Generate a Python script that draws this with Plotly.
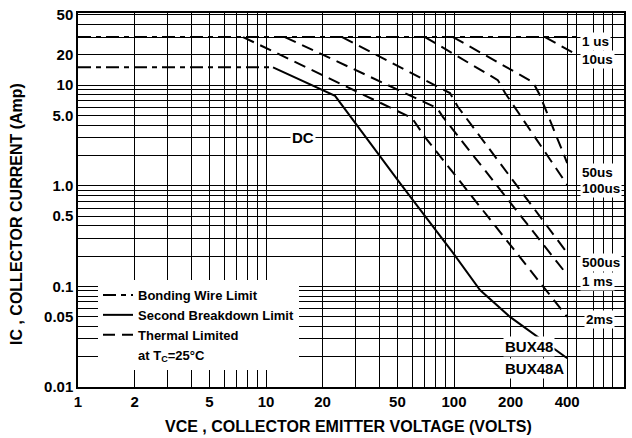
import plotly.graph_objects as go
import math

# ---------------- data ----------------
x_ticks = [1, 2, 5, 10, 20, 50, 100, 200, 400]
x_ticktext = ["1", "2", "5", "10", "20", "50", "100", "200", "400"]
x_minor = [3, 4, 6, 7, 8, 9, 30, 40, 60, 70, 80, 90, 300, 450, 550, 625, 700]

y_ticks = [0.01, 0.05, 0.1, 0.5, 1, 5, 10, 20, 50]
y_ticktext = ["0.01", "0.05", "0.1", "0.5", "1.0", "5.0", "10", "20", "50"]
y_minor = [0.02, 0.03, 0.04, 0.06, 0.07, 0.08, 0.09,
           0.2, 0.3, 0.4, 0.6, 0.7, 0.8, 0.9,
           2, 3, 4, 6, 7, 8, 9, 30, 40]

# Bonding wire limits (dash-dot)
bond30_v = [1, 450]
bond30_i = [30, 30]
bond15_v = [1, 10.9]
bond15_i = [15, 15]

# DC curve (solid)
dc_v = [10.9, 23.3, 51.6, 98.8, 137.5, 198.6, 400]
dc_i = [15, 7.8, 1.06, 0.215, 0.092, 0.0497, 0.0193]

# pulse curves (dashed)
t10us_v = [305, 450]
t10us_i = [30, 20]
t50us_v = [98.8, 263, 286, 400]
t50us_i = [30, 10.7, 7.96, 1.68]
t100us_v = [70.1, 171, 187, 400]
t100us_i = [30, 11.2, 8.33, 1.02]
t500us_v = [25.4, 95.2, 105, 400]
t500us_i = [30, 8.33, 6.05, 0.215]
t1ms_v = [12.6, 81.2, 87.4, 400]
t1ms_i = [30, 5.91, 4.81, 0.13]
t2ms_v = [7.55, 59.8, 70.1, 400]
t2ms_i = [30, 4.70, 3.04, 0.0497]

legend_names = ["Bonding Wire Limit", "Second Breakdown Limit", "Thermal Limited",
                "at T<sub>C</sub>=25°C"]

# ---------------- styles ----------------
FONT = "Liberation Sans, Arial, Helvetica, sans-serif"
DASH = "12px,7px"
DASHDOT = "13px,5px,5px,5px"
W = 632
H = 438
L, R, T, B = 78, 8, 13, 51
PW = W - L - R
PH = H - T - B


def px(xp):
    return (xp - L) / PW


def py(yp):
    return (H - B - yp) / PH


fig = go.Figure()

line_bw = dict(color="black", width=2, dash=DASHDOT)
line_sb = dict(color="black", width=2)
line_th = dict(color="black", width=2, dash=DASH)

fig.add_trace(go.Scatter(x=bond30_v, y=bond30_i, mode="lines", line=line_bw,
                         showlegend=False, hoverinfo="skip"))
fig.add_trace(go.Scatter(x=bond15_v, y=bond15_i, mode="lines", line=line_bw,
                         showlegend=False, hoverinfo="skip"))
fig.add_trace(go.Scatter(x=dc_v, y=dc_i, mode="lines", line=line_sb,
                         showlegend=False, hoverinfo="skip"))
for vv, ii in [(t10us_v, t10us_i), (t50us_v, t50us_i), (t100us_v, t100us_i),
               (t500us_v, t500us_i), (t1ms_v, t1ms_i), (t2ms_v, t2ms_i)]:
    fig.add_trace(go.Scatter(x=vv, y=ii, mode="lines", line=line_th,
                             showlegend=False, hoverinfo="skip"))

# legend entries
for name, ln in zip(legend_names,
                    [line_bw, line_sb, line_th,
                     dict(color="rgba(0,0,0,0)", width=2)]):
    fig.add_trace(go.Scatter(x=[None], y=[None], mode="lines", line=ln, name=name))

axis_font = dict(family=FONT, size=15, color="black", weight="bold")

fig.update_xaxes(
    type="log", range=[0, math.log10(802)],
    tickmode="array", tickvals=x_ticks, ticktext=x_ticktext,
    showgrid=True, gridcolor="black", gridwidth=1,
    minor=dict(tickmode="array", tickvals=x_minor, showgrid=True,
               gridcolor="black", gridwidth=1, ticks=""),
    ticks="", showline=True, linecolor="black", linewidth=1.5, mirror=True,
    tickfont=axis_font, zeroline=False, automargin=False,
)
fig.update_yaxes(
    type="log", range=[-2, math.log10(52)],
    tickmode="array", tickvals=y_ticks, ticktext=y_ticktext,
    showgrid=True, gridcolor="black", gridwidth=1,
    minor=dict(tickmode="array", tickvals=y_minor, showgrid=True,
               gridcolor="black", gridwidth=1, ticks=""),
    ticks="", showline=True, linecolor="black", linewidth=1.5, mirror=True,
    tickfont=axis_font, zeroline=False, automargin=False,
)

ann_font = dict(family=FONT, size=13.5, color="black", weight="bold")
big_font = dict(family=FONT, size=15, color="black", weight="bold")
annotations = []
for text, xp_, yp_ in [("1 us", 580, 42), ("10us", 580, 59), ("50us", 580, 172),
                       ("100us", 580, 188), ("500us", 580, 262), ("1 ms", 580, 281),
                       ("2ms", 584, 319)]:
    annotations.append(dict(text=text, x=px(xp_), y=py(yp_), xref="paper", yref="paper",
                            xanchor="left", yanchor="middle", showarrow=False,
                            font=ann_font, bgcolor="white", borderpad=1))
for text, xp_, yp_, anc in [("DC", 303, 137, "center"), ("BUX48", 503, 346, "left"),
                            ("BUX48A", 503, 368, "left")]:
    annotations.append(dict(text=text, x=px(xp_), y=py(yp_), xref="paper", yref="paper",
                            xanchor=anc, yanchor="middle", showarrow=False,
                            font=big_font, bgcolor="white", borderpad=1))

title_font = dict(family=FONT, size=16, color="black", weight="bold")
annotations.append(dict(text="VCE , COLLECTOR EMITTER VOLTAGE (VOLTS)",
                        x=px(348), y=py(426), xref="paper", yref="paper",
                        xanchor="center", yanchor="middle", showarrow=False, font=title_font))
annotations.append(dict(text="IC , COLLECTOR CURRENT (Amp)",
                        x=px(17), y=py(214), xref="paper", yref="paper", textangle=-90,
                        xanchor="center", yanchor="middle", showarrow=False, font=title_font))

fig.update_layout(
    width=W, height=H, autosize=False,
    margin=dict(l=L, r=R, t=T, b=B, pad=0),
    paper_bgcolor="white", plot_bgcolor="white",
    showlegend=True,
    legend=dict(x=px(98), y=py(280), xanchor="left", yanchor="top",
                bgcolor="white", borderwidth=0,
                font=dict(family=FONT, size=13, color="black", weight="bold"),
                tracegroupgap=0, itemwidth=30),
    annotations=annotations,
    font=dict(family=FONT, color="black"),
)

fig.write_html(
    "out.html",
    config={"displayModeBar": False},
    post_script="document.body.style.margin='0';document.body.style.overflow='hidden';",
)
